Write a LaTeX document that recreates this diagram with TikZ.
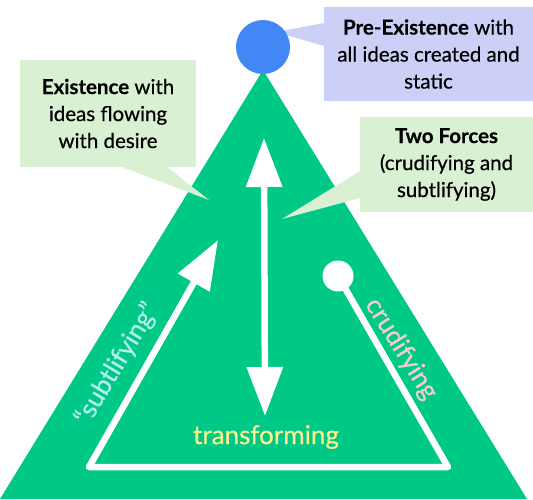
\documentclass[tikz,border=0pt]{standalone}
\usepackage{fontspec}
\setmainfont{Lato}[UprightFeatures={FakeBold=0.5}, BoldFeatures={FakeBold=0.3}]
\usetikzlibrary{arrows.meta}
\definecolor{stage}{RGB}{0, 200, 135}
\definecolor{origin}{RGB}{66, 135, 245}
\definecolor{prebox}{RGB}{204, 208, 247}
\definecolor{notebox}{RGB}{217, 240, 211}
\definecolor{subtle}{RGB}{178, 240, 238}
\definecolor{crude}{RGB}{244, 204, 204}
\definecolor{change}{RGB}{250, 242, 140}
\tikzset{
	bubble/.style={inner sep=0pt, align=center, font=\fontsize{20.5}{27}\selectfont},
	force/.style={draw=white, line width=6.5pt, line join=round, line cap=round},
	head/.style={-{Triangle[length=49pt, width=35pt]}},
	flowtext/.style={font=\fontsize{26}{30}\selectfont, inner sep=0pt}
}

\begin{document}
\begin{tikzpicture}[x=1pt, y=-1pt]
			\useasboundingbox (0, 0) rectangle (533, 499);
			\fill [stage] (0, 499) -- (263, 70) -- (527, 499) -- cycle;
			\coordinate (pretip) at (276, 32);
			\coordinate (existtip) at (209, 200);
			\coordinate (forcetip) at (282, 219);
			\fill [prebox] (pretip) -- (324, 23) -- (324, 46) -- cycle;
			\fill [notebox] (existtip) -- (122, 167) -- (167, 167) -- cycle;
			\fill [notebox] (forcetip) -- (360, 171) -- (360, 198) -- cycle;
			\node [bubble, fill=prebox, minimum width=209pt, minimum height=94pt] (pre) at (428.5, 54) {\textbf{Pre-Existence} with\\all ideas created and\\static};
			\node [bubble, fill=notebox, minimum width=176pt, minimum height=107pt] (exist) at (108, 113.5) {\textbf{Existence} with\\ideas flowing\\with desire};
			\node [bubble, fill=notebox, minimum width=173pt, minimum height=95pt] (forces) at (446.5, 164.5) {\textbf{Two Forces}\\(crudifying and\\subtlifying)};
			\node [circle, fill=origin, minimum size=54pt, inner sep=0pt] (source) at (263, 47) {};
			\node [circle, fill=white, minimum size=31pt, inner sep=0pt] (knob) at (338, 276) {};
			\coordinate (right) at (448, 467);
			\coordinate (left) at (89, 467);
			\coordinate (uptip) at (218, 240);
			\coordinate (top) at (264, 138);
			\coordinate (bottom) at (265, 416);
			\draw [force, head] (knob) -- (right) -- (left) -- (uptip);
			\draw [force, line cap=butt, {Triangle[length=49pt, width=35pt]}-{Triangle[length=49pt, width=35pt]}] (top) -- (bottom);
			\node [flowtext, rotate=59, text=subtle] (subtlifying) at (117, 364) {“subtlifying”};
			\node [flowtext, rotate=-58, text=crude] (crudifying) at (401, 349) {crudifying};
			\node [flowtext, text=change] (transforming) at (266, 437) {transforming};
		\end{tikzpicture}
\end{document}
